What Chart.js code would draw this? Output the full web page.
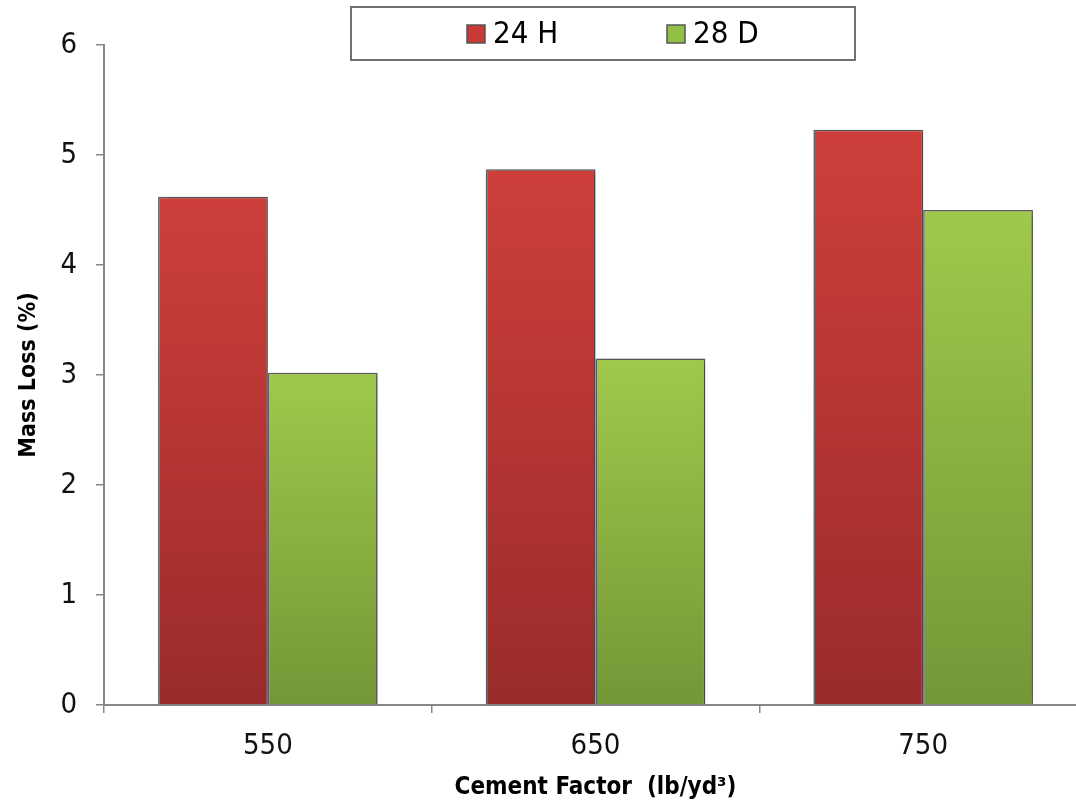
<!DOCTYPE html>
<html>
<head>
<meta charset="utf-8">
<script src="https://cdn.jsdelivr.net/npm/chart.js@4/dist/chart.umd.min.js"></script>
<style>
  html, body { margin: 0; padding: 0; background: #fff; overflow: hidden; }
  #wrap { width: 1100px; height: 805px; position: relative; }
</style>
</head>
<body>
<div id="wrap"><canvas id="myChart"></canvas></div>
<script>
const categories = ['550', '650', '750'];
const seriesNames = ['24 H', '28 D'];
const values24H = [4.62, 4.87, 5.23];
const values28D = [3.02, 3.15, 4.50];
const yTicks = [0, 1, 2, 3, 4, 5, 6];

const FONT = "'Liberation Sans Narrow', 'Arial Narrow', 'DejaVu Sans Condensed', sans-serif";

// vertical gradient running from the top of each bar down to the axis
function barGradient(top, bottom) {
    return function(context) {
        const chart = context.chart;
        const area = chart.chartArea;
        if (!area || context.raw === undefined) return top;
        const yScale = chart.scales.y;
        const y0 = yScale.getPixelForValue(context.raw);
        const y1 = yScale.getPixelForValue(0);
        const g = chart.ctx.createLinearGradient(0, y0, 0, y1);
        g.addColorStop(0, top);
        g.addColorStop(1, bottom);
        return g;
    };
}

const barShadow = {
    id: 'barShadow',
    beforeDatasetsDraw(chart) {
        const ctx = chart.ctx;
        ctx.save();
        ctx.shadowColor = 'rgba(0,0,0,0.3)';
        ctx.shadowBlur = 6;
        ctx.shadowOffsetX = 3;
        ctx.shadowOffsetY = 1;
    },
    afterDatasetsDraw(chart) {
        chart.ctx.restore();
    }
};

// boxed legend sitting over the top of the plot
const boxLegend = {
    id: 'boxLegend',
    afterDraw(chart) {
        const ctx = chart.ctx;
        ctx.save();
        ctx.fillStyle = '#fff';
        ctx.fillRect(351, 7, 504, 53);
        ctx.strokeStyle = '#707070';
        ctx.lineWidth = 2;
        ctx.strokeRect(351, 7, 504, 53);

        const swatches = [['#c93a36', 467], ['#92bf45', 667]];
        ctx.font = '31px ' + FONT;
        ctx.textBaseline = 'middle';
        ctx.textAlign = 'left';
        chart.data.datasets.forEach((ds, i) => {
            const x = swatches[i][1];
            ctx.fillStyle = swatches[i][0];
            ctx.fillRect(x, 25, 18, 18);
            ctx.strokeStyle = '#555';
            ctx.lineWidth = 1.5;
            ctx.strokeRect(x, 25, 18, 18);
            ctx.fillStyle = '#000';
            ctx.fillText(ds.label, x + 26, 35);
        });
        ctx.restore();
    }
};

const data = {
    labels: categories,
    datasets: [{
        label: seriesNames[0],
        data: values24H,
        backgroundColor: barGradient('#ce3f3a', '#9a2b2b'),
        borderColor: '#5e5e5e',
        borderWidth: 1.5,
        borderSkipped: 'bottom',
        categoryPercentage: 0.67,
        barPercentage: 1.0
    }, {
        label: seriesNames[1],
        data: values28D,
        backgroundColor: barGradient('#9fc94b', '#749737'),
        borderColor: '#5e5e5e',
        borderWidth: 1.5,
        borderSkipped: 'bottom',
        categoryPercentage: 0.67,
        barPercentage: 1.0
    }]
};

const config = {
    type: 'bar',
    data: data,
    options: {
        responsive: true,
        maintainAspectRatio: false,
        animation: false,
        layout: { padding: { top: 45, right: 13, left: 0, bottom: 0 } },
        plugins: {
            legend: { display: false },
            tooltip: { enabled: false }
        },
        scales: {
            x: {
                grid: {
                    display: true,
                    drawOnChartArea: false,
                    drawTicks: true,
                    tickLength: 8,
                    color: '#888',
                    lineWidth: 1.5,
                    offset: true
                },
                border: { color: '#888', width: 2 },
                ticks: {
                    color: '#111',
                    font: { family: FONT, size: 29 },
                    padding: 16
                },
                title: {
                    display: true,
                    text: 'Cement Factor  (lb/yd³)',
                    color: '#000',
                    font: { family: FONT, size: 24, weight: 'bold' },
                    padding: { top: 0, bottom: 3 }
                },
                afterFit(scale) { scale.height = 100; }
            },
            y: {
                min: 0,
                max: 6,
                afterBuildTicks(scale) {
                    scale.ticks = yTicks.map(v => ({ value: v }));
                },
                grid: {
                    display: true,
                    drawOnChartArea: false,
                    drawTicks: true,
                    tickLength: 8,
                    color: '#888',
                    lineWidth: 1.5
                },
                border: { color: '#888', width: 2 },
                ticks: {
                    color: '#111',
                    font: { family: FONT, size: 29 },
                    padding: 19
                },
                title: {
                    display: true,
                    text: 'Mass Loss (%)',
                    color: '#000',
                    font: { family: FONT, size: 23, weight: 'bold' },
                    padding: { top: 15, bottom: 0 }
                },
                afterFit(scale) { scale.width = 104; }
            }
        }
    },
    plugins: [barShadow, boxLegend]
};

const myChart = new Chart(document.getElementById('myChart'), config);
</script>
</body>
</html>
